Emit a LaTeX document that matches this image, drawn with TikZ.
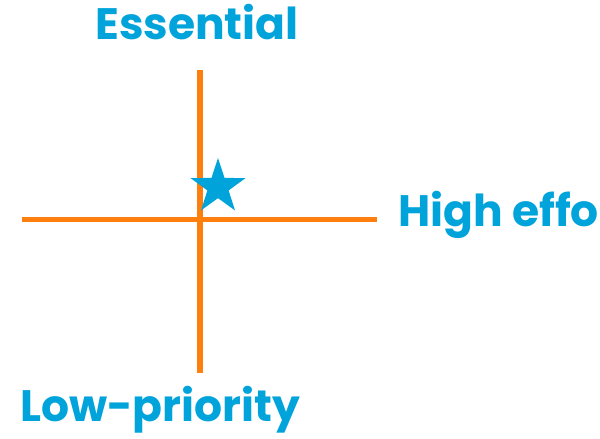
\documentclass[tikz,border=0pt]{standalone}
\usepackage{fontspec}
\setmainfont{Poppins}
\usetikzlibrary{shapes.geometric}
\definecolor{lblue}{HTML}{00A3DA}
\definecolor{axisorange}{HTML}{FF7F0E}
\begin{document}
\begin{tikzpicture}[x=1pt,y=1pt,
  axisline/.style={draw=axisorange,line width=5.5pt},
  label/.style={text=lblue,font=\bfseries\fontsize{44}{44}\selectfont,inner sep=0pt,anchor=base west}]
\useasboundingbox (0,0) rectangle (600,439);
\clip (0,0) rectangle (600,439);
\coordinate (top) at (200,369);
\coordinate (bot) at (200,66);
\coordinate (lft) at (22,219.5);
\coordinate (rgt) at (377,219.5);
\draw[axisline] (top) -- (bot);
\draw[axisline] (lft) -- (rgt);
\node[star,star points=5,star point ratio=2.6,fill=lblue,minimum size=58pt,inner sep=0pt] (st) at (218,252) {};
\node[label] (ess) at (95,399) {Essential};
\node[label] (high) at (398,212) {High effort};
\node[label] (low) at (20,17) {Low-priority};
\end{tikzpicture}
\end{document}
